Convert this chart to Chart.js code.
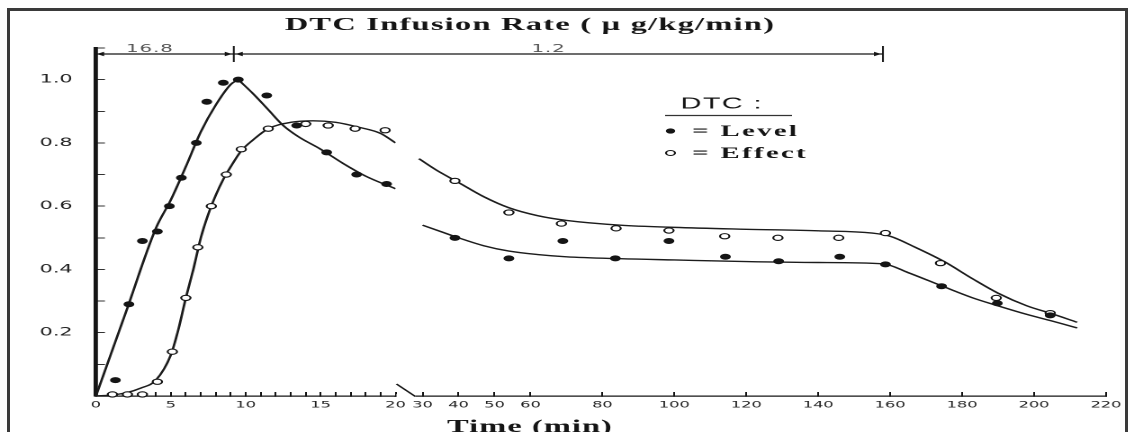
<!DOCTYPE html>
<html>
<head>
<meta charset="utf-8">
<script src="https://cdn.jsdelivr.net/npm/chart.js@4.4.1/dist/chart.umd.min.js"></script>
<style>
html,body{margin:0;padding:0;background:#fff;overflow:hidden;width:1136px;height:432px;}
#frame{position:absolute;left:7px;top:8px;width:1121px;height:440px;border:3px solid #3a3a3a;border-bottom:none;box-sizing:border-box;}
#wrap{position:absolute;left:0;top:0;width:631px;height:432px;transform:scaleX(1.8);transform-origin:0 0;}
canvas{display:block;}
</style>
</head>
<body>
<div id="frame"></div>
<div id="wrap"><canvas id="c" width="631" height="432"></canvas></div>
<script>
// ---- texts ----
const chartTitle = 'DTC Infusion Rate ( \u03bc g/kg/min)';
const xTitle = 'Time (min)';
const legendTitle = 'DTC :';
const seriesNames = ['Level', 'Effect'];
const infusionRates = ['16.8', '1.2'];
const infusionTimes = [0, 9.2, 158];

// ---- ticks ----
const xLabelsEarly = [0, 5, 10, 15, 20];
const xTicksLate = [30, 40, 50, 60, 80, 100, 120, 140, 160, 180, 200, 220];
const yTickValues = [0.2, 0.4, 0.6, 0.8, 1.0];
const yTickLabels = ['0.2', '0.4', '0.6', '0.8', '1.0'];

// ---- observed points (time in min, normalised value) ----
const levelTimeEarly = [1.3, 2.2, 3.1, 4.1, 4.9, 5.7, 6.7, 7.4, 8.5, 9.5, 11.4, 13.4, 15.4, 17.4, 19.4];
const levelEarly     = [0.05, 0.29, 0.49, 0.52, 0.60, 0.69, 0.80, 0.93, 0.99, 1.0, 0.95, 0.855, 0.77, 0.70, 0.67];
const levelTimeLate  = [39, 54, 69, 83.6, 98.5, 114.2, 129, 146, 158.7, 174.3, 189.8, 204.5];
const levelLate      = [0.50, 0.435, 0.49, 0.435, 0.49, 0.44, 0.426, 0.44, 0.416, 0.347, 0.293, 0.255];

const effectTimeEarly = [1.1, 2.1, 3.1, 4.1, 5.1, 6.0, 6.8, 7.7, 8.7, 9.7, 11.5, 14.0, 15.5, 17.3, 19.3];
const effectEarly     = [0.005, 0.005, 0.005, 0.045, 0.14, 0.31, 0.47, 0.60, 0.70, 0.78, 0.845, 0.86, 0.855, 0.845, 0.84];
const effectTimeLate  = [39, 54, 68.6, 83.8, 98.5, 114, 128.8, 145.7, 158.7, 174, 189.5, 204.5];
const effectLate      = [0.68, 0.58, 0.545, 0.53, 0.523, 0.505, 0.50, 0.50, 0.515, 0.42, 0.31, 0.262];

// ---- fitted curves ----
const levelRiseTime = [0, 2, 4, 5, 6, 7, 8, 9, 9.5];
const levelRise     = [0, 0.265, 0.53, 0.62, 0.725, 0.835, 0.92, 0.985, 1.0];
const levelFallTime = [9.5, 10.5, 11.5, 12.5, 13.5, 15, 16.5, 18, 20];
const levelFall     = [1.0, 0.955, 0.905, 0.855, 0.82, 0.78, 0.735, 0.695, 0.655];
const levelCurveLateTime = [30, 35, 40, 47, 54, 62, 70, 85, 100, 120, 140, 158, 165, 175, 183, 190, 198, 205, 212];
const levelCurveLate     = [0.54, 0.52, 0.50, 0.475, 0.458, 0.447, 0.44, 0.434, 0.43, 0.425, 0.422, 0.418, 0.39, 0.345, 0.31, 0.285, 0.258, 0.237, 0.215];
const effectCurveEarlyTime = [0, 1, 2, 3, 4, 5, 5.5, 6, 6.5, 7, 7.5, 8, 8.5, 9, 9.7, 10.5, 11.5, 13, 14.5, 16, 17.5, 19, 20];
const effectCurveEarly     = [0, 0.003, 0.01, 0.025, 0.05, 0.13, 0.21, 0.31, 0.40, 0.50, 0.575, 0.635, 0.685, 0.725, 0.775, 0.81, 0.845, 0.865, 0.87, 0.865, 0.85, 0.83, 0.80];
const effectCurveLateTime = [29, 34, 40, 47, 54, 62, 70, 85, 100, 120, 140, 155, 160, 167, 175, 183, 190, 198, 205, 212];
const effectCurveLate     = [0.75, 0.713, 0.675, 0.63, 0.595, 0.57, 0.555, 0.54, 0.533, 0.527, 0.522, 0.515, 0.505, 0.47, 0.425, 0.37, 0.325, 0.285, 0.26, 0.233];

const SX = 1.8; // horizontal stretch of the page
const pts = (t, v) => t.map((x, i) => ({x: x, y: v[i]}));

const ink = '#151515';
const pointSet = (label, t, v, axis, filled) => ({
  label: label, data: pts(t, v), xAxisID: axis, yAxisID: 'y', showLine: false, clip: false,
  pointRadius: 2.6, pointHoverRadius: 2.6, pointBorderWidth: filled ? 0.8 : 1.1,
  pointBackgroundColor: filled ? ink : '#ffffff', pointBorderColor: ink
});
const curveSet = (label, t, v, axis) => ({
  label: label, data: pts(t, v), xAxisID: axis, yAxisID: 'y', showLine: true,
  pointRadius: 0, pointHoverRadius: 0, borderColor: '#1c1c1c', borderWidth: 1.4,
  cubicInterpolationMode: 'monotone', fill: false
});

const annot = {
  id: 'annot',
  afterDraw(chart) {
    const {ctx, scales} = chart;
    const x = scales.x, x2 = scales.x2, y = scales.y;
    ctx.save();
    ctx.fillStyle = ink; ctx.strokeStyle = ink;
    // title
    ctx.font = 'bold 18px "Liberation Serif"';
    ctx.letterSpacing = '0.7px';
    ctx.textAlign = 'center'; ctx.textBaseline = 'alphabetic';
    ctx.fillText(chartTitle, 530 / SX, 30);
    // infusion bar
    const ly = 54;
    const xa = x.getPixelForValue(infusionTimes[0]);
    const xb = x.getPixelForValue(infusionTimes[1]);
    const xc = x2.getPixelForValue(infusionTimes[2]);
    ctx.lineWidth = 1.2;
    ctx.beginPath(); ctx.moveTo(xa, ly); ctx.lineTo(xc, ly); ctx.stroke();
    ctx.lineWidth = 1;
    [xb, xc].forEach(px => { ctx.beginPath(); ctx.moveTo(px, ly - 8); ctx.lineTo(px, ly + 8); ctx.stroke(); });
    const arrow = (tip, dir) => {
      ctx.beginPath(); ctx.moveTo(tip, ly); ctx.lineTo(tip - dir * 4, ly - 2.2); ctx.lineTo(tip - dir * 4, ly + 2.2); ctx.closePath(); ctx.fill();
    };
    arrow(xa + 0.5, -1); arrow(xb - 1, 1); arrow(xb + 1, -1); arrow(xc - 1, 1);
    ctx.font = '11px "DejaVu Sans"'; ctx.letterSpacing = '0.5px';
    ctx.fillStyle = '#555';
    ctx.textBaseline = 'alphabetic';
    ctx.fillText(infusionRates[0], x.getPixelForValue(3.6), ly - 2);
    ctx.fillText(infusionRates[1], x2.getPixelForValue(65), ly - 2);
    ctx.fillStyle = ink;
    // legend
    ctx.font = '16px "Liberation Sans"'; ctx.letterSpacing = '0.8px';
    ctx.textAlign = 'center'; ctx.textBaseline = 'middle';
    ctx.fillText(legendTitle, 401, 104);
    ctx.lineWidth = 1.3; ctx.strokeStyle = '#333';
    ctx.beginPath(); ctx.moveTo(369.5, 115.5); ctx.lineTo(440, 115.5); ctx.stroke();
    ctx.strokeStyle = ink;
    ctx.beginPath(); ctx.arc(372.5, 131, 2.6, 0, Math.PI * 2); ctx.fill();
    ctx.beginPath(); ctx.arc(372.5, 153, 2.5, 0, Math.PI * 2); ctx.fillStyle = '#fff'; ctx.fill(); ctx.lineWidth = 1.1; ctx.stroke();
    ctx.fillStyle = ink;
    ctx.font = 'bold 16px "Liberation Serif"'; ctx.letterSpacing = '1.3px';
    ctx.textAlign = 'left';
    ctx.fillText('= ' + seriesNames[0], 384.5, 132);
    ctx.fillText('= ' + seriesNames[1], 384.5, 154);
    // axis break
    const xs = x2.getPixelForValue(28);
    ctx.fillStyle = '#fff';
    ctx.fillRect(x2.left + 0.5, y.bottom - 2, xs - x2.left - 0.5, 4);
    ctx.strokeStyle = ink; ctx.lineWidth = 1.2;
    ctx.beginPath(); ctx.moveTo(x.right + 0.5, y.bottom - 12); ctx.lineTo(xs, y.bottom + 0.5); ctx.stroke();
    // x title
    ctx.fillStyle = ink;
    ctx.font = 'bold 18px "Liberation Serif"'; ctx.letterSpacing = '0.6px';
    ctx.textAlign = 'center'; ctx.textBaseline = 'alphabetic';
    ctx.fillText(xTitle, 530 / SX, 432);
    ctx.restore();
  }
};

const xTickFont = {family: 'DejaVu Sans', size: 9};
new Chart(document.getElementById('c'), {
  type: 'scatter',
  data: {
    datasets: [
      pointSet(seriesNames[0], levelTimeEarly, levelEarly, 'x', true),
      pointSet(seriesNames[0], levelTimeLate, levelLate, 'x2', true),
      pointSet(seriesNames[1], effectTimeEarly, effectEarly, 'x', false),
      pointSet(seriesNames[1], effectTimeLate, effectLate, 'x2', false),
      curveSet(seriesNames[0] + ' fit', levelRiseTime, levelRise, 'x'),
      curveSet(seriesNames[0] + ' fit', levelFallTime, levelFall, 'x'),
      curveSet(seriesNames[0] + ' fit', levelCurveLateTime, levelCurveLate, 'x2'),
      curveSet(seriesNames[1] + ' fit', effectCurveEarlyTime, effectCurveEarly, 'x'),
      curveSet(seriesNames[1] + ' fit', effectCurveLateTime, effectCurveLate, 'x2')
    ]
  },
  options: {
    responsive: false,
    maintainAspectRatio: false,
    devicePixelRatio: 2,
    animation: false,
    layout: {padding: {top: 48, right: 13.8, left: 22, bottom: 0}},
    plugins: {legend: {display: false}, tooltip: {enabled: false}},
    scales: {
      x: {
        type: 'linear', position: 'bottom', stack: 'time', stackWeight: 167.3,
        min: 0, max: 20,
        afterFit: s => { s.height = 36; },
        border: {display: true, color: ink, width: 1.3},
        grid: {drawOnChartArea: false, drawTicks: true, tickLength: -4, tickColor: ink, tickWidth: 1},
        ticks: {stepSize: 1, autoSkip: false, maxRotation: 0, padding: 8, color: '#222', font: xTickFont,
          callback: v => (xLabelsEarly.includes(v) ? String(v) : '')}
      },
      x2: {
        type: 'linear', position: 'bottom', stack: 'time', stackWeight: 396.6,
        min: 22.5, max: 220,
        afterFit: s => { s.height = 36; },
        afterBuildTicks: s => { s.ticks = xTicksLate.map(v => ({value: v})); },
        border: {display: true, color: ink, width: 1.3},
        grid: {drawOnChartArea: false, drawTicks: true, tickLength: -4, tickColor: ink, tickWidth: 1},
        ticks: {autoSkip: false, maxRotation: 0, padding: 8, color: '#222', font: xTickFont,
          callback: v => String(v)}
      },
      y: {
        type: 'linear', position: 'left', min: 0, max: 1.1,
        afterFit: s => { s.width = 31.3; },
        border: {display: true, color: ink, width: 2.4},
        grid: {drawOnChartArea: false, drawTicks: true, tickLength: -5, tickColor: '#333', tickWidth: 1},
        ticks: {stepSize: 0.1, autoSkip: false, crossAlign: 'far', padding: 0, color: '#222', font: {family: 'DejaVu Sans', size: 11.5},
          callback: v => {
            const i = yTickValues.findIndex(t => Math.abs(t - v) < 1e-6);
            return i >= 0 ? yTickLabels[i] : '';
          }}
      }
    }
  },
  plugins: [annot]
});
</script>
</body>
</html>
